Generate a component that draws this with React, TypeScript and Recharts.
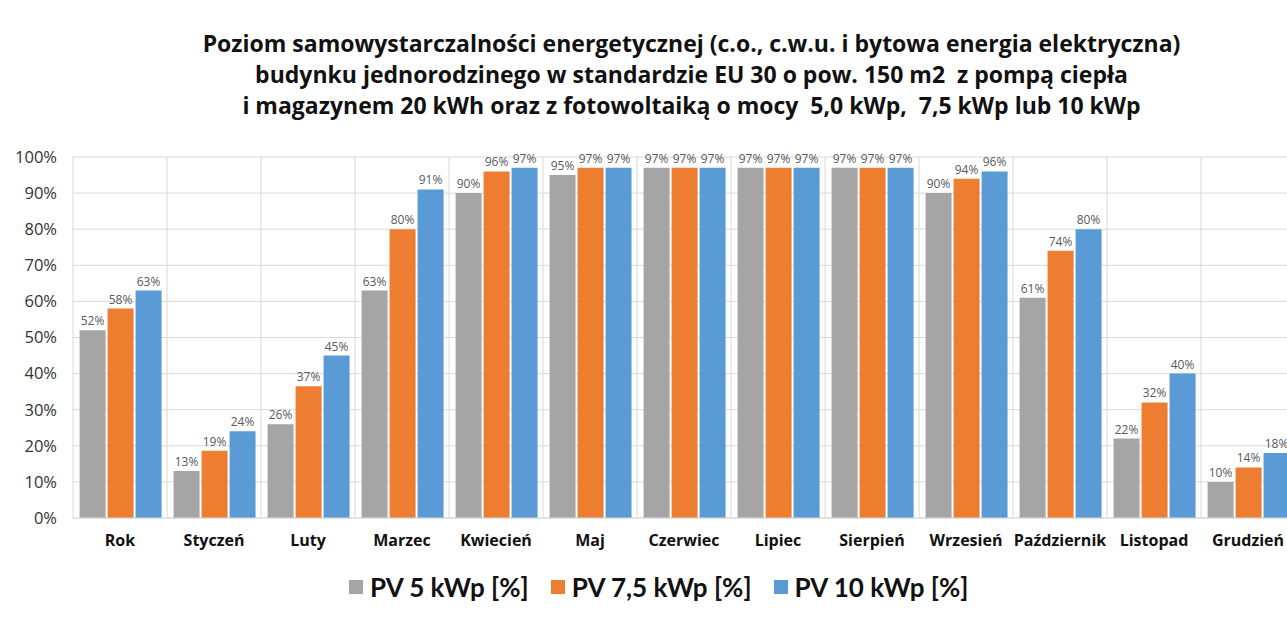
import React from 'react'
import { BarChart, Bar, XAxis, YAxis, CartesianGrid, LabelList } from 'recharts'

const months = [
  'Rok', 'Styczeń', 'Luty', 'Marzec', 'Kwiecień', 'Maj', 'Czerwiec',
  'Lipiec', 'Sierpień', 'Wrzesień', 'Październik', 'Listopad', 'Grudzień',
]
const pv5 = [52, 13, 26, 63, 90, 95, 97, 97, 97, 90, 61, 22, 10]
const pv75 = [58, 18.6, 36.5, 80, 96, 97, 97, 97, 97, 94, 74, 32, 14]
const pv10 = [63, 24, 45, 91, 97, 97, 97, 97, 97, 96, 80, 40, 18]
const yTicks = [0, 10, 20, 30, 40, 50, 60, 70, 80, 90, 100]

const seriesNames = ['PV 5 kWp [%]', 'PV 7,5 kWp [%]', 'PV 10 kWp [%]']
const colors = ['#a5a5a5', '#ed7d31', '#5b9bd5']

const titleLines = [
  'Poziom samowystarczalności energetycznej (c.o., c.w.u. i bytowa energia elektryczna)',
  'budynku jednorodzinego w standardzie EU 30 o pow. 150 m2  z pompą ciepła',
  'i magazynem 20 kWh oraz z fotowoltaiką o mocy  5,0 kWp,  7,5 kWp lub 10 kWp',
]

const data = months.map((m, i) => ({ name: m, pv5: pv5[i], pv75: pv75[i], pv10: pv10[i] }))

const font = '"Open Sans", Lato, sans-serif'
const legendFont = 'Lato, sans-serif'

const pct = (v: any) => `${Math.round(Number(v))}%`

function LegendBox() {
  return (
    <div style={{ position: 'absolute', left: 349, top: 570, display: 'flex', gap: 22, fontFamily: legendFont, fontWeight: 700, fontSize: 26, lineHeight: '34px', color: '#111', whiteSpace: 'nowrap' }}>
      {seriesNames.map((n, i) => (
        <div key={n} style={{ display: 'flex', alignItems: 'center' }}>
          <span style={{ display: 'inline-block', width: 14, height: 14, background: colors[i], marginRight: 7 }} />
          <span>{n}</span>
        </div>
      ))}
    </div>
  )
}

export default function App() {
  return (
    <div style={{ position: 'fixed', left: 0, top: 0, width: 1287, height: 617, overflow: 'hidden', background: '#fff' }}>
      <div style={{ position: 'absolute', left: 0, top: 28, width: 1383, textAlign: 'center', fontFamily: font, fontWeight: 700, fontSize: 23, lineHeight: '31px', color: '#111', whiteSpace: 'pre' }}>
        {titleLines.map((l) => (
          <div key={l}>{l}</div>
        ))}
      </div>
      <BarChart
        width={1300}
        height={617}
        data={data}
        margin={{ top: 157, right: 5, bottom: 30, left: 0 }}
        barCategoryGap="7%"
        barGap={2}
        style={{ position: 'absolute', left: 0, top: 0 }}
      >
        <CartesianGrid
          stroke="#d9d9d9"
          verticalCoordinatesGenerator={({ offset }: any) =>
            months.map((_, i) => offset.left + (i * offset.width) / months.length).concat(offset.left + offset.width)
          }
        />
        <XAxis
          dataKey="name"
          height={69}
          tickSize={0}
          tickMargin={17}
          axisLine={{ stroke: '#d9d9d9' }}
          tick={{ fill: '#111', fontSize: 16, fontWeight: 700, fontFamily: font }}
          interval={0}
        />
        <YAxis
          width={73}
          domain={[0, 100]}
          ticks={yTicks}
          tickFormatter={(v) => `${v}%`}
          tickSize={0}
          tickMargin={16}
          axisLine={false}
          tick={{ fill: '#333', fontSize: 16.5, fontFamily: font }}
        />
        <Bar dataKey="pv5" name={seriesNames[0]} fill={colors[0]} isAnimationActive={false}>
          <LabelList dataKey="pv5" position="top" offset={5} formatter={pct} style={{ fill: '#595959', fontSize: 12, fontFamily: font }} />
        </Bar>
        <Bar dataKey="pv75" name={seriesNames[1]} fill={colors[1]} isAnimationActive={false}>
          <LabelList dataKey="pv75" position="top" offset={5} formatter={pct} style={{ fill: '#595959', fontSize: 12, fontFamily: font }} />
        </Bar>
        <Bar dataKey="pv10" name={seriesNames[2]} fill={colors[2]} isAnimationActive={false}>
          <LabelList dataKey="pv10" position="top" offset={5} formatter={pct} style={{ fill: '#595959', fontSize: 12, fontFamily: font }} />
        </Bar>
      </BarChart>
      <LegendBox />
    </div>
  )
}
